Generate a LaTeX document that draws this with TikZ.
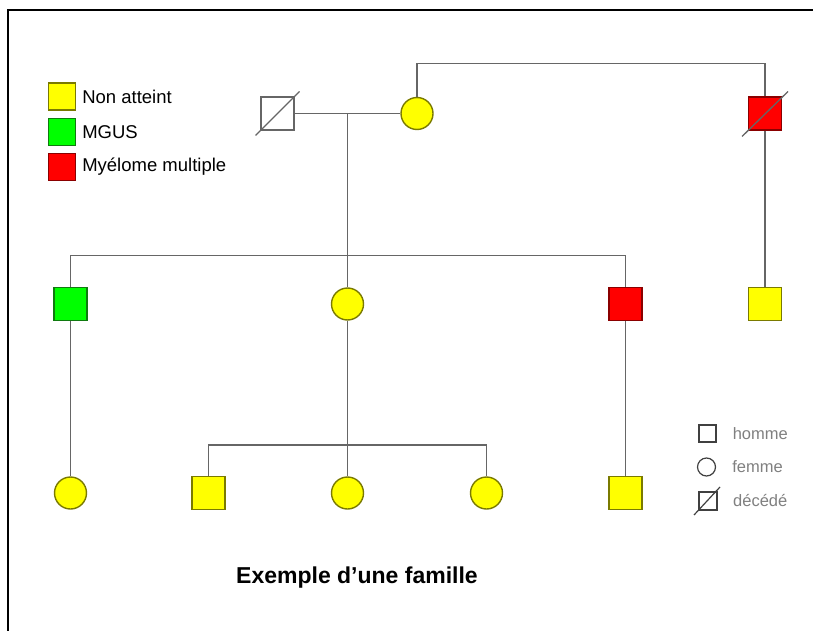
\documentclass[tikz,border=0pt]{standalone}
\usepackage{fontspec}
\setmainfont{Liberation Sans}
\usetikzlibrary{positioning}
\definecolor{jaune}{HTML}{FFFF00}
\definecolor{jaunebord}{HTML}{7A7A00}
\definecolor{vert}{HTML}{00FF00}
\definecolor{vertbord}{HTML}{107A10}
\definecolor{rouge}{HTML}{FF0000}
\definecolor{rougebord}{HTML}{8A0000}
\definecolor{lien}{HTML}{666666}
\definecolor{grisclair}{HTML}{808080}

\begin{document}
\begin{tikzpicture}[x=1pt, y=1pt,
  man/.style = {draw, rectangle, minimum size=33pt, inner sep=0pt, line width=1.4pt},
  woman/.style = {draw, circle, minimum size=32pt, inner sep=0pt, line width=1.4pt},
  healthy/.style = {fill=jaune, draw=jaunebord},
  mgus/.style = {fill=vert, draw=vertbord},
  myelome/.style = {fill=rouge, draw=rougebord},
  unknown/.style = {fill=white, draw=lien},
  link/.style = {draw=lien, line width=1.8pt},
  slash/.style = {draw=lien, line width=1.3pt},
  keytext/.style = {inner sep=0pt, font=\fontsize{18.5}{21}\selectfont},
  smallkey/.style = {inner sep=0pt, text=grisclair, font=\fontsize{16.5}{19}\selectfont},
  smallshape/.style = {draw=black!75, fill=white, line width=1.2pt}]
  \useasboundingbox (0,0) rectangle (813,-631);
  \draw[line width=2pt] (8,-631) -- (8,-10) -- (813,-10);

  % first generation
  \node[man, unknown] (p1) at (277.5,-113.5) {};
  \node[node distance={139.5pt}, woman, healthy] (p2) [right of=p1] {};
  \node[node distance={348pt}, man, myelome] (p3) [right of=p2] {};
  \coordinate[node distance={70pt}, right of=p1] (m12);
  \coordinate[node distance={50pt}, above of=p2] (t1);

  % second generation
  \node[node distance={190.5pt}, woman, healthy] (c2) [below of=m12] {};
  \node[node distance={277pt}, man, mgus] (c1) [left of=c2] {};
  \node[node distance={278pt}, man, myelome] (c3) [right of=c2] {};
  \node[node distance={190.5pt}, man, healthy] (c4) [below of=p3] {};
  \coordinate[node distance={142pt}, below of=m12] (s1);

  % third generation
  \node[node distance={189pt}, woman, healthy] (g3) [below of=c2] {};
  \node[node distance={139pt}, man, healthy] (g2) [left of=g3] {};
  \node[node distance={139pt}, woman, healthy] (g4) [right of=g3] {};
  \node[node distance={189pt}, woman, healthy] (g1) [below of=c1] {};
  \node[node distance={189pt}, man, healthy] (g5) [below of=c3] {};
  \coordinate[node distance={141pt}, below of=c2] (s2);

  \draw[link] (p1) -- (p2);
  \draw[link] (p2) -- (t1) -| (p3);
  \draw[link] (m12) -- (c2);
  \draw[link] (c1) |- (s1) -| (c3);
  \draw[link] (p3) -- (c4);
  \draw[link] (c2) -- (g3);
  \draw[link] (g2) |- (s2) -| (g4);
  \draw[link] (c1) -- (g1);
  \draw[link] (c3) -- (g5);

  % deceased
  \draw[slash] ([shift={(-22pt,-22pt)}]p1.center) -- ([shift={(22pt,22pt)}]p1.center);
  \draw[slash] ([shift={(-23pt,-23pt)}]p3.center) -- ([shift={(23pt,22pt)}]p3.center);

  % legend of colours
  \node[man, healthy, minimum size=27pt, line width=1.2pt] (k1) at (62,-96.5) {};
  \node[man, mgus, minimum size=27pt, line width=1.2pt, below=7pt of k1] (k2) {};
  \node[man, myelome, minimum size=27pt, line width=1.2pt, below=7pt of k2] (k3) {};
  \node[keytext, right=6pt of k1] (k1t) {Non atteint};
  \node[keytext, right=6pt of k2] (k2t) {MGUS};
  \node[keytext, right=6pt of k3] (k3t) {Myélome multiple};

  % legend of symbols
  \node[smallshape, rectangle, minimum size=17pt, inner sep=0pt] (h) at (707.5,-433.5) {};
  \node[smallshape, circle, minimum size=18pt, inner sep=0pt] (f) at (706.5,-467) {};
  \node[smallshape, rectangle, minimum size=18pt, inner sep=0pt] (d) at (708,-501) {};
  \draw[line width=1.2pt, black!75] ([shift={(-14pt,-14pt)}]d.center) -- ([shift={(12pt,14pt)}]d.center);
  \node[smallkey, right=16pt of h] (ht) {homme};
  \node[smallkey, right=16pt of f] (ft) {femme};
  \node[smallkey, anchor=west] (dt) at (733,-501) {décédé};

  \node[font=\bfseries\fontsize{23}{26}\selectfont] (titre) at (357,-578) {Exemple d’une famille};
\end{tikzpicture}
\end{document}
